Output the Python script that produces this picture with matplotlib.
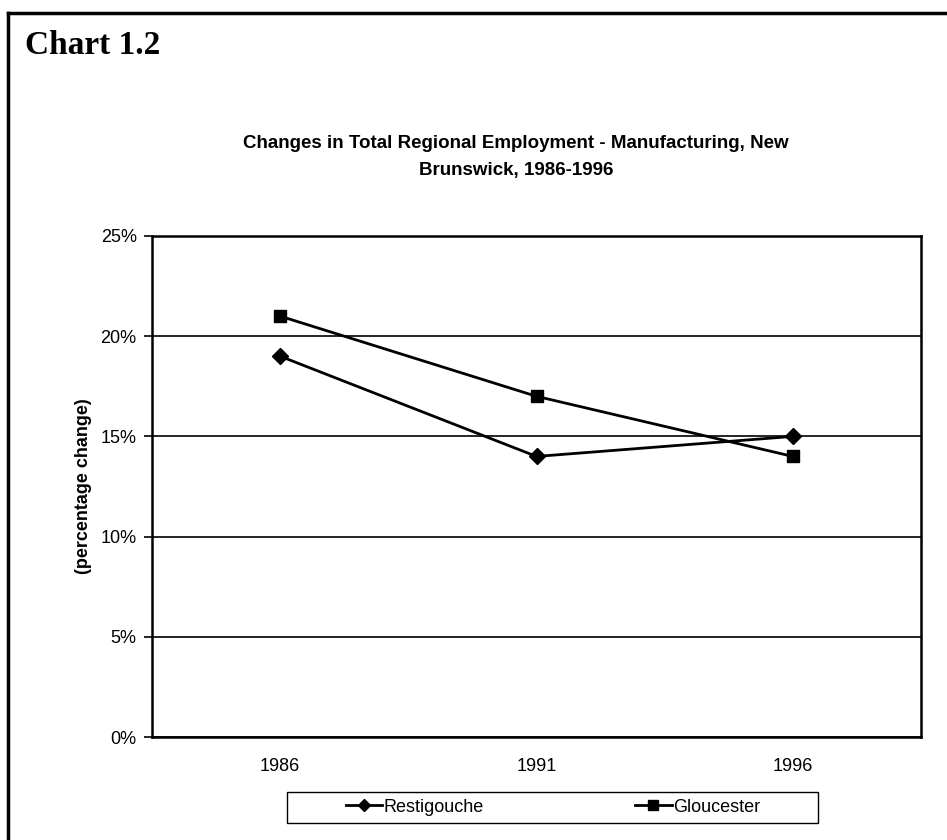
import numpy as np
import matplotlib.pyplot as plt
from matplotlib.lines import Line2D
from matplotlib.patches import Rectangle

# Employment change by region, manufacturing sector
years = ['1986', '1991', '1996']
restigouche = [19, 14, 15]
gloucester = [21, 17, 14]
y_ticks = [0, 5, 10, 15, 20, 25]

plt.rcParams['font.family'] = ['Liberation Sans', 'DejaVu Sans']

W, H = 947, 840
fig = plt.figure(figsize=(W / 100, H / 100), dpi=100)

# Page frame: top rule and left rule
fig.add_artist(Line2D([8/W, 1], [1 - 13/H, 1 - 13/H], color='black', lw=2.5))
fig.add_artist(Line2D([8/W, 8/W], [0, 1 - 13/H], color='black', lw=2.5))

fig.text(25/W, 1 - 46/H, 'Chart 1.2', family='Liberation Serif',
         fontweight='bold', fontsize=24, va='center', ha='left')

fig.text(516/W, 1 - 157/H,
         'Changes in Total Regional Employment - Manufacturing, New\nBrunswick, 1986-1996',
         fontweight='bold', fontsize=13.5, ha='center', va='center', linespacing=1.75)

ax = fig.add_axes([152/W, 1 - 737/H, (921 - 152)/W, (737 - 236)/H])
x = np.arange(len(years))
ax.plot(x, restigouche, color='black', lw=2, marker='D', markersize=8, label='Restigouche')
ax.plot(x, gloucester, color='black', lw=2, marker='s', markersize=9, label='Gloucester')

ax.set_xlim(-0.5, len(years) - 0.5)
ax.set_ylim(0, 25)
ax.set_yticks(y_ticks)
ax.set_yticklabels([f'{v}%' for v in y_ticks], fontsize=13)
ax.set_xticks(x)
ax.set_xticklabels(years, fontsize=13)
ax.tick_params(axis='x', length=0, pad=15)
ax.tick_params(axis='y', length=6, width=1.2, direction='out', pad=5)
ax.yaxis.grid(True, color='black', lw=1.2)
ax.set_axisbelow(True)
for s in ax.spines.values():
    s.set_linewidth(1.8)

ax.set_ylabel('(percentage change)', fontweight='bold', fontsize=13, labelpad=6)

# legend box is wider than its entries, so the frame is drawn separately
fig.add_artist(Rectangle((287/W, 1 - 823/H), (818 - 287)/W, (823 - 792)/H,
                         transform=fig.transFigure, fill=False, ec='black', lw=1.0))
fig.legend(loc='center', bbox_to_anchor=(553/W, 1 - 807/H), ncol=2,
           fontsize=13, frameon=False, handlelength=2.0, handletextpad=0.1,
           columnspacing=8.4, borderpad=0, borderaxespad=0, markerscale=0.75)

fig.savefig('out.png', dpi=100, facecolor='white')
